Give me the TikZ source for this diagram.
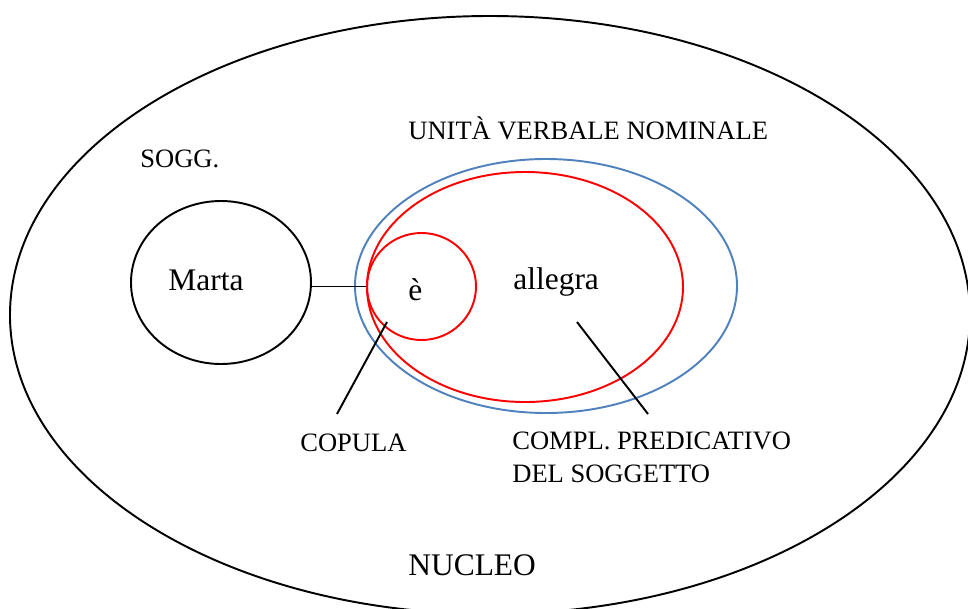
\documentclass[tikz,border=0pt]{standalone}
\usepackage{fontspec}
\setmainfont{Liberation Serif}
\usepackage{tikz}
\usepackage{xcolor}
\usetikzlibrary{positioning,shapes}

\definecolor{unitblue}{RGB}{79,129,189}
\definecolor{predred}{RGB}{255,0,0}

\begin{document}
\begin{tikzpicture}[scale=0.2,
  ring/.style={draw, ellipse, inner sep=0pt, line width=1.1pt},
  lab/.style={font=\fontsize{15.1}{18.8}\selectfont, inner sep=0pt},
  word/.style={font=\fontsize{17.9}{21}\selectfont, inner sep=0pt}]
\clip (0,0) rectangle (96.8,-60.8);
% rings
\node [ring, minimum width=19.2cm, minimum height=11.96cm] (nucleoR) at (49,-31.5) {};
\node [ring, minimum width=3.6cm, minimum height=3.26cm] (martaR) at (22.1,-28.25) {};
\node [ring, unitblue, minimum width=7.64cm, minimum height=5.08cm] (unitaR) at (54.6,-28.6) {};
\node [ring, predred, minimum width=6.32cm, minimum height=4.6cm] (predR) at (52.5,-28.7) {};
\node [ring, predred, minimum width=2.18cm, minimum height=2.14cm] (copR) at (42.15,-28.65) {};
% labels
\node [lab, anchor=base west] (sogg) at (14,-16.7) {SOGG.};
\node [lab, anchor=base west] (unita) at (40.8,-13.9) {UNITÀ VERBALE NOMINALE};
\node [word, anchor=base west] (marta) at (16.8,-29.07) {Marta};
\node [word, anchor=base west] (e) at (40.8,-30) {è};
\node [word, anchor=base west] (allegra) at (51.3,-28.9) {allegra};
\node [lab, anchor=base west] (copula) at (30,-45.1) {COPULA};
\node [lab, anchor=north west, align=left] (compl) at (51.2,-43.15) {COMPL. PREDICATIVO\\DEL SOGGETTO};
\node [word, anchor=base west] (nucleo) at (40.8,-57.57) {NUCLEO};
% connectors
\coordinate (copTop) at (38.7,-32.2);
\coordinate (copEnd) at (33.7,-41.4);
\coordinate (predTop) at (57.7,-32.2);
\coordinate (predEnd) at (64.8,-41.4);
\draw [black, line width=1.1pt] (copR.west) -- (copR.west -| martaR.east);
\draw [black, line width=1.1pt] (copTop) -- (copEnd);
\draw [black, line width=1.1pt] (predTop) -- (predEnd);
\end{tikzpicture}
\end{document}
